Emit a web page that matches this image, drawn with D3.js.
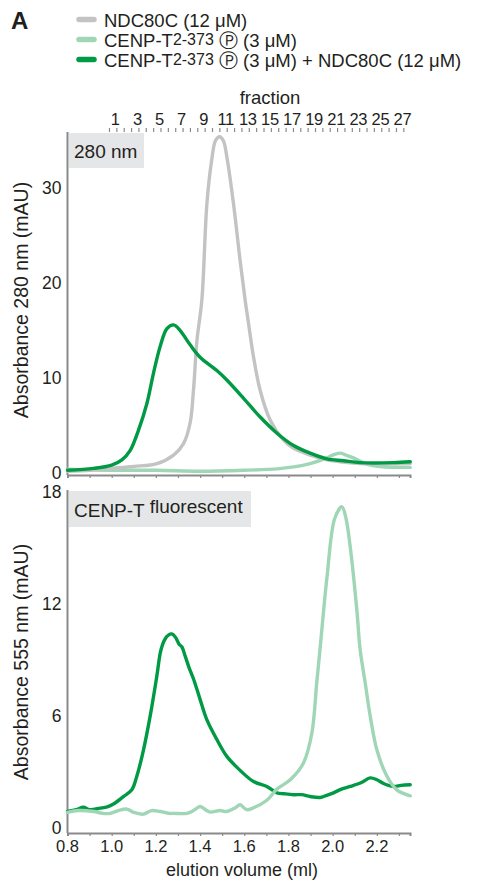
<!DOCTYPE html>
<html><head><meta charset="utf-8">
<script src="https://cdn.jsdelivr.net/npm/d3@7"></script>
<style>body{margin:0;background:#fff}svg text{font-family:"Liberation Sans",Arial,sans-serif;fill:#231f20}</style>
</head><body><svg id="c" width="478" height="882"></svg>
<script>
// ---- data ----
const xTicks = [0.8, 1.0, 1.2, 1.4, 1.6, 1.8, 2.0, 2.2];
const yTicksTop = [0, 10, 20, 30];
const yTicksBot = [0, 6, 12, 18];
const fractionLabels = [1,3,5,7,9,11,13,15,17,19,21,23,25,27];
const fraction1Center = 1.016, fractionWidth = 0.05;
const fractionTickStart = 0.99, fractionTickStep = 0.0333, fractionTickEnd = 2.35;

// top panel 280 nm
const ndcTop = [[0.8,0.2],[0.9,0.3],[1.0,0.5],[1.1,0.7],[1.205,1.0],[1.28,1.9],[1.325,3.1],[1.355,5.3],[1.37,8.7],[1.386,14],[1.408,18.2],[1.431,28.4],[1.453,33],[1.47,35],[1.488,35.4],[1.505,35],[1.521,33.3],[1.551,28.4],[1.581,22.4],[1.604,18.2],[1.619,15.8],[1.642,12.2],[1.672,8.7],[1.717,5.6],[1.777,3.5],[1.823,2.6],[1.898,1.9],[1.974,1.4],[2.05,1.15],[2.124,1.0],[2.351,1.0]];
const cenpTop = [[0.8,0.4],[0.9,0.35],[1.0,0.3],[1.2,0.3],[1.4,0.2],[1.6,0.3],[1.75,0.45],[1.823,0.65],[1.898,1.0],[1.974,1.6],[2.0,1.9],[2.034,2.1],[2.06,1.9],[2.094,1.6],[2.155,0.95],[2.215,0.7],[2.351,0.6]];
const complexTop = [[0.8,0.3],[0.918,0.5],[1.0,0.85],[1.046,1.4],[1.084,2.4],[1.121,4.5],[1.159,7.3],[1.189,10.5],[1.219,13.3],[1.25,15.2],[1.28,15.6],[1.31,15.0],[1.355,13.5],[1.40,12.2],[1.476,10.8],[1.521,9.8],[1.596,7.9],[1.672,5.9],[1.748,4.2],[1.823,2.9],[1.898,2.1],[1.974,1.5],[2.049,1.3],[2.124,1.1],[2.275,1.1],[2.351,1.2]];

// bottom panel 555 nm
const cenpBot = [[0.8,0.85],[0.85,0.95],[0.918,0.9],[0.96,0.8],[0.993,0.8],[1.03,0.95],[1.069,1.03],[1.1,0.85],[1.144,0.76],[1.18,0.95],[1.219,0.9],[1.26,0.8],[1.28,0.8],[1.34,0.8],[1.37,0.95],[1.40,1.17],[1.43,0.95],[1.446,0.87],[1.49,0.95],[1.521,0.9],[1.56,1.1],[1.581,1.26],[1.61,1.0],[1.642,1.1],[1.702,1.5],[1.748,2.1],[1.808,2.6],[1.868,3.5],[1.906,5.1],[1.928,7.8],[1.943,9.6],[1.974,13.4],[2.01,16.6],[2.042,17.2],[2.06,16.6],[2.079,15.1],[2.11,11.6],[2.124,9.6],[2.147,7.8],[2.17,6.0],[2.2,4.2],[2.245,2.8],[2.29,2.06],[2.351,1.74]];
const complexBot = [[0.8,0.9],[0.84,1.0],[0.872,1.13],[0.9,1.0],[0.948,1.08],[0.98,1.15],[1.008,1.3],[1.053,1.7],[1.091,2.06],[1.114,2.8],[1.144,4.2],[1.174,6.0],[1.205,8.2],[1.222,9.5],[1.24,10.1],[1.258,10.35],[1.272,10.4],[1.29,10.2],[1.305,9.85],[1.318,9.7],[1.333,9.2],[1.35,8.6],[1.37,8.0],[1.40,6.9],[1.431,5.8],[1.476,4.75],[1.521,3.85],[1.581,3.1],[1.642,2.5],[1.702,2.24],[1.748,1.9],[1.78,1.85],[1.823,1.8],[1.86,1.8],[1.898,1.7],[1.943,1.65],[1.97,1.75],[2.004,1.9],[2.04,2.1],[2.079,2.24],[2.13,2.45],[2.17,2.7],[2.2,2.6],[2.23,2.4],[2.275,2.24],[2.31,2.3],[2.351,2.33]];

const colNdc = "#c3c3c3", colCenp = "#9fd6b5", colCpx = "#009a44";

// ---- drawing ----
const svg = d3.select("#c");
const x = d3.scaleLinear().domain([0.8, 2.35]).range([67.5, 410]);
const yTop = d3.scaleLinear().domain([-0.2, 35.9]).range([475, 132]);
const yBot = d3.scaleLinear().domain([-0.25, 18.1]).range([833, 490]);
const axisCol = "#8a8a8a";

// panel A label
svg.append("text").attr("x", 11).attr("y", 29).attr("font-size", 24).attr("font-weight", "bold").text("A");

// legend
const legend = [
  {c: colNdc, parts: [["NDC80C (12 μM)", false]]},
  {c: colCenp, parts: [["CENP-T", false], ["2-373", true], [" Ⓟ (3 μM)", false]]},
  {c: colCpx, parts: [["CENP-T", false], ["2-373", true], [" Ⓟ (3 μM) + NDC80C (12 μM)", false]]}
];
legend.forEach((d, i) => {
  const yy = 19.5 + i * 20;
  svg.append("line").attr("x1", 79).attr("x2", 94).attr("y1", yy).attr("y2", yy)
    .attr("stroke", d.c).attr("stroke-width", 5.5).attr("stroke-linecap", "round");
  const t = svg.append("text").attr("x", 104).attr("y", yy + 7).attr("font-size", 18.5);
  d.parts.forEach((p, j) => {
    const ts = t.append("tspan").text(p[0]);
    if (p[1]) ts.attr("dy", -2).attr("font-size", 16);
    else if (j > 0) ts.attr("dy", 2);
  });
});

function panel(y, yTicks, series, boxText) {
  const g = svg.append("g");
  // label box
  g.append("rect").attr("x", boxText.x).attr("y", boxText.y).attr("width", boxText.w).attr("height", boxText.h).attr("fill", "#e5e6e7");
  const bt = g.append("text").attr("x", boxText.x + 5).attr("y", boxText.y + boxText.h - 10).attr("font-size", 19);
  boxText.parts.forEach((p, i) => {
    const ts = bt.append("tspan").text(p[0]);
    if (p[1]) ts.attr("dy", -4).attr("dx", 5);
  });
  // y axis line
  g.append("line").attr("x1", x.range()[0]).attr("x2", x.range()[0]).attr("y1", y.range()[1]).attr("y2", y.range()[0])
    .attr("stroke", axisCol).attr("stroke-width", 2);
  // x axis
  const xa = g.append("g").attr("transform", `translate(0,${y.range()[0]})`)
    .call(d3.axisBottom(x).tickValues(d3.range(0.8, 2.36, 0.1)).tickSize(3).tickFormat(""));
  xa.select(".domain").attr("stroke", axisCol).attr("stroke-width", 2);
  xa.selectAll(".tick line").attr("stroke", axisCol).attr("stroke-width", 1.2);
  // y tick labels
  const ya = g.append("g").attr("transform", `translate(${x.range()[0]},0)`)
    .call(d3.axisLeft(y).tickValues(yTicks).tickSize(0).tickPadding(6));
  ya.select(".domain").remove();
  ya.selectAll("text").attr("font-size", 17.5).attr("font-family", "Liberation Sans, Arial, sans-serif").attr("fill", "#231f20");
  // series
  const line = d3.line().x(d => x(d[0])).y(d => y(d[1])).curve(d3.curveCatmullRom.alpha(0.5));
  series.forEach(s => {
    g.append("path").attr("d", line(s.data)).attr("fill", "none").attr("stroke", s.c)
      .attr("stroke-width", 3.4).attr("stroke-linejoin", "round").attr("stroke-linecap", "round");
  });
}

panel(yTop, yTicksTop, [{data: cenpTop, c: colCenp}, {data: ndcTop, c: colNdc}, {data: complexTop, c: colCpx}],
  {x: 69, y: 133, w: 75, h: 35, parts: [["280 nm", false]]});
panel(yBot, yTicksBot, [{data: complexBot, c: colCpx}, {data: cenpBot, c: colCenp}],
  {x: 69, y: 491, w: 182, h: 36, parts: [["CENP-T", false], ["fluorescent", true]]});

// bottom x tick labels
svg.append("g").selectAll("text").data(xTicks).join("text")
  .attr("x", d => x(d)).attr("y", 852).attr("text-anchor", "middle").attr("font-size", 16.5)
  .text(d => d.toFixed(1));
svg.append("text").attr("x", 242).attr("y", 876).attr("text-anchor", "middle").attr("font-size", 18).text("elution volume (ml)");

// y axis titles
svg.append("text").attr("transform", "translate(28,300) rotate(-90)").attr("text-anchor", "middle").attr("font-size", 19.5).text("Absorbance 280 nm (mAU)");
svg.append("text").attr("transform", "translate(28,662) rotate(-90)").attr("text-anchor", "middle").attr("font-size", 19.5).text("Absorbance 555 nm (mAU)");

// fraction axis
const fracTicks = d3.range(fractionTickStart, fractionTickEnd, fractionTickStep);
svg.append("g").selectAll("line").data(fracTicks).join("line")
  .attr("x1", d => x(d)).attr("x2", d => x(d)).attr("y1", 128).attr("y2", 132)
  .attr("stroke", axisCol).attr("stroke-width", 1.2);
svg.append("g").selectAll("text").data(fractionLabels).join("text")
  .attr("x", d => x(fraction1Center + (d - 1) * fractionWidth)).attr("y", 125).attr("text-anchor", "middle").attr("font-size", 16.5)
  .attr("letter-spacing", -0.3)
  .text(d => d);
svg.append("text").attr("x", 270).attr("y", 104).attr("text-anchor", "middle").attr("font-size", 18.5).text("fraction");
</script></body></html>
